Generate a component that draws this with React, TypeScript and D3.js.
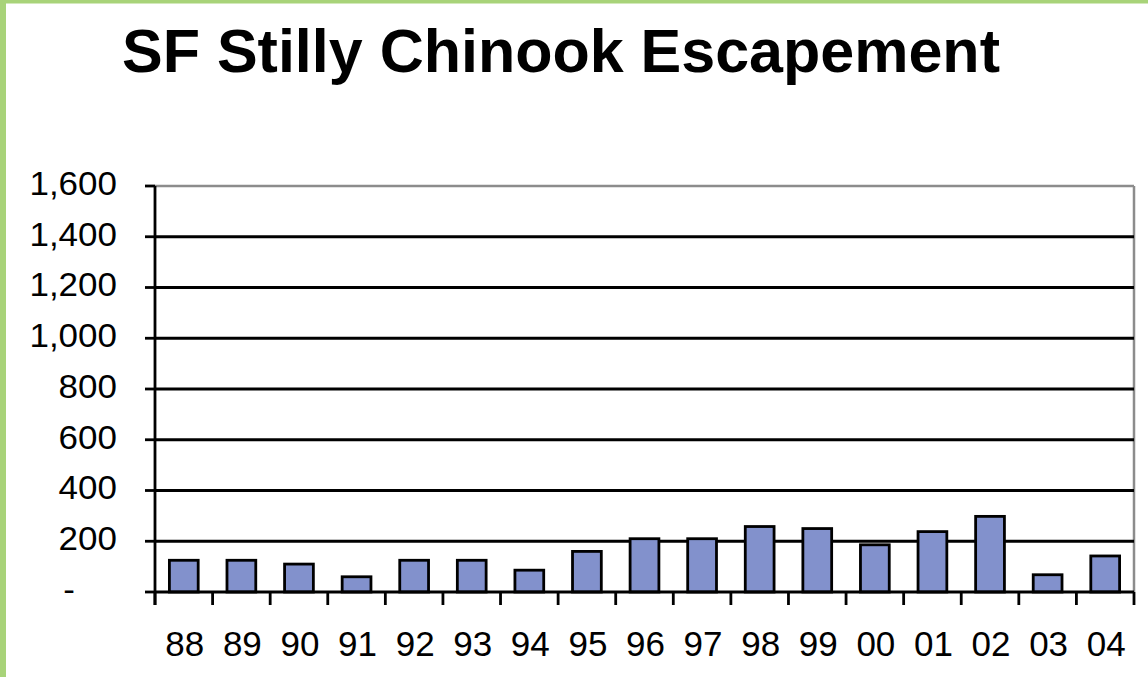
import React from "react";
import * as d3 from "d3";

// chart data
const years = ["88", "89", "90", "91", "92", "93", "94", "95", "96", "97", "98", "99", "00", "01", "02", "03", "04"];
const escapement = [125, 125, 110, 60, 125, 125, 86, 160, 210, 210, 258, 250, 186, 238, 298, 68, 142];
const yTicks = [0, 200, 400, 600, 800, 1000, 1200, 1400, 1600];

const W = 1148;
const H = 677;
const margin = { top: 186, right: 14, bottom: 85, left: 155 };
const font = "'Liberation Sans', Arial, Helvetica, sans-serif";

export default function App() {
  const x = d3
    .scaleBand()
    .domain(years)
    .range([margin.left, W - margin.right])
    .paddingInner(0)
    .paddingOuter(0);

  const y = d3
    .scaleLinear()
    .domain([0, 1600])
    .range([H - margin.bottom, margin.top]);

  const fmt = (d: number) => (d === 0 ? "-" : d3.format(",")(d));
  const left = margin.left;
  const right = W - margin.right;
  const base = y(0);
  const barW = x.bandwidth() * 0.5;
  const sw = 2.8;

  return (
    <div style={{ position: "absolute", left: 0, top: 0 }}>
      <svg width={W} height={H} style={{ display: "block", background: "#fff" }}>
        {/* green frame */}
        <rect x={0} y={0} width={6} height={H} fill="#a8d379" />
        <rect x={0} y={0} width={W} height={3.5} fill="#a8d379" />

        <text
          x={561}
          y={72}
          textAnchor="middle"
          fontFamily={font}
          fontWeight="bold"
          fontSize={61}
          fill="#000"
        >
          SF Stilly Chinook Escapement
        </text>

        {/* plot border (top / right) */}
        <line x1={left} x2={right} y1={y(1600)} y2={y(1600)} stroke="#8c8c8c" strokeWidth={2.5} />
        <line x1={right} x2={right} y1={y(1600)} y2={base} stroke="#8c8c8c" strokeWidth={2.5} />

        {/* gridlines */}
        {yTicks
          .filter((t) => t > 0 && t < 1600)
          .map((t) => (
            <line key={t} x1={left} x2={right} y1={y(t)} y2={y(t)} stroke="#000" strokeWidth={sw} />
          ))}

        {/* bars */}
        {years.map((yr, i) => (
          <rect
            key={yr}
            x={(x(yr) as number) + (x.bandwidth() - barW) / 2}
            y={y(escapement[i])}
            width={barW}
            height={base - y(escapement[i])}
            fill="#8291cc"
            stroke="#000"
            strokeWidth={sw}
          />
        ))}

        {/* y axis */}
        <line x1={left} x2={left} y1={y(1600)} y2={base + 13} stroke="#000" strokeWidth={sw} />
        {yTicks.map((t) => (
          <g key={t}>
            <line x1={left - 10} x2={left} y1={y(t)} y2={y(t)} stroke="#000" strokeWidth={sw} />
            <text
              x={t === 0 ? 75 : 117}
              y={y(t) + 9}
              textAnchor="end"
              fontFamily={font}
              fontSize={33}
              fill="#000"
              transform={`translate(${t === 0 ? 75 : 117} 0) scale(1.06 1) translate(${-(t === 0 ? 75 : 117)} 0)`}
            >
              {fmt(t)}
            </text>
          </g>
        ))}

        {/* x axis */}
        <line x1={left} x2={right} y1={base} y2={base} stroke="#000" strokeWidth={sw} />
        {years.map((yr) => (
          <line
            key={"t" + yr}
            x1={x(yr) as number}
            x2={x(yr) as number}
            y1={base}
            y2={base + 13}
            stroke="#000"
            strokeWidth={sw}
          />
        ))}
        <line x1={right} x2={right} y1={base} y2={base + 13} stroke="#000" strokeWidth={sw} />
        {years.map((yr) => (
          <text
            key={"l" + yr}
            x={(x(yr) as number) + x.bandwidth() / 2 + 1}
            y={656}
            textAnchor="middle"
            fontFamily={font}
            fontSize={35}
            fill="#000"
          >
            {yr}
          </text>
        ))}
      </svg>
    </div>
  );
}
